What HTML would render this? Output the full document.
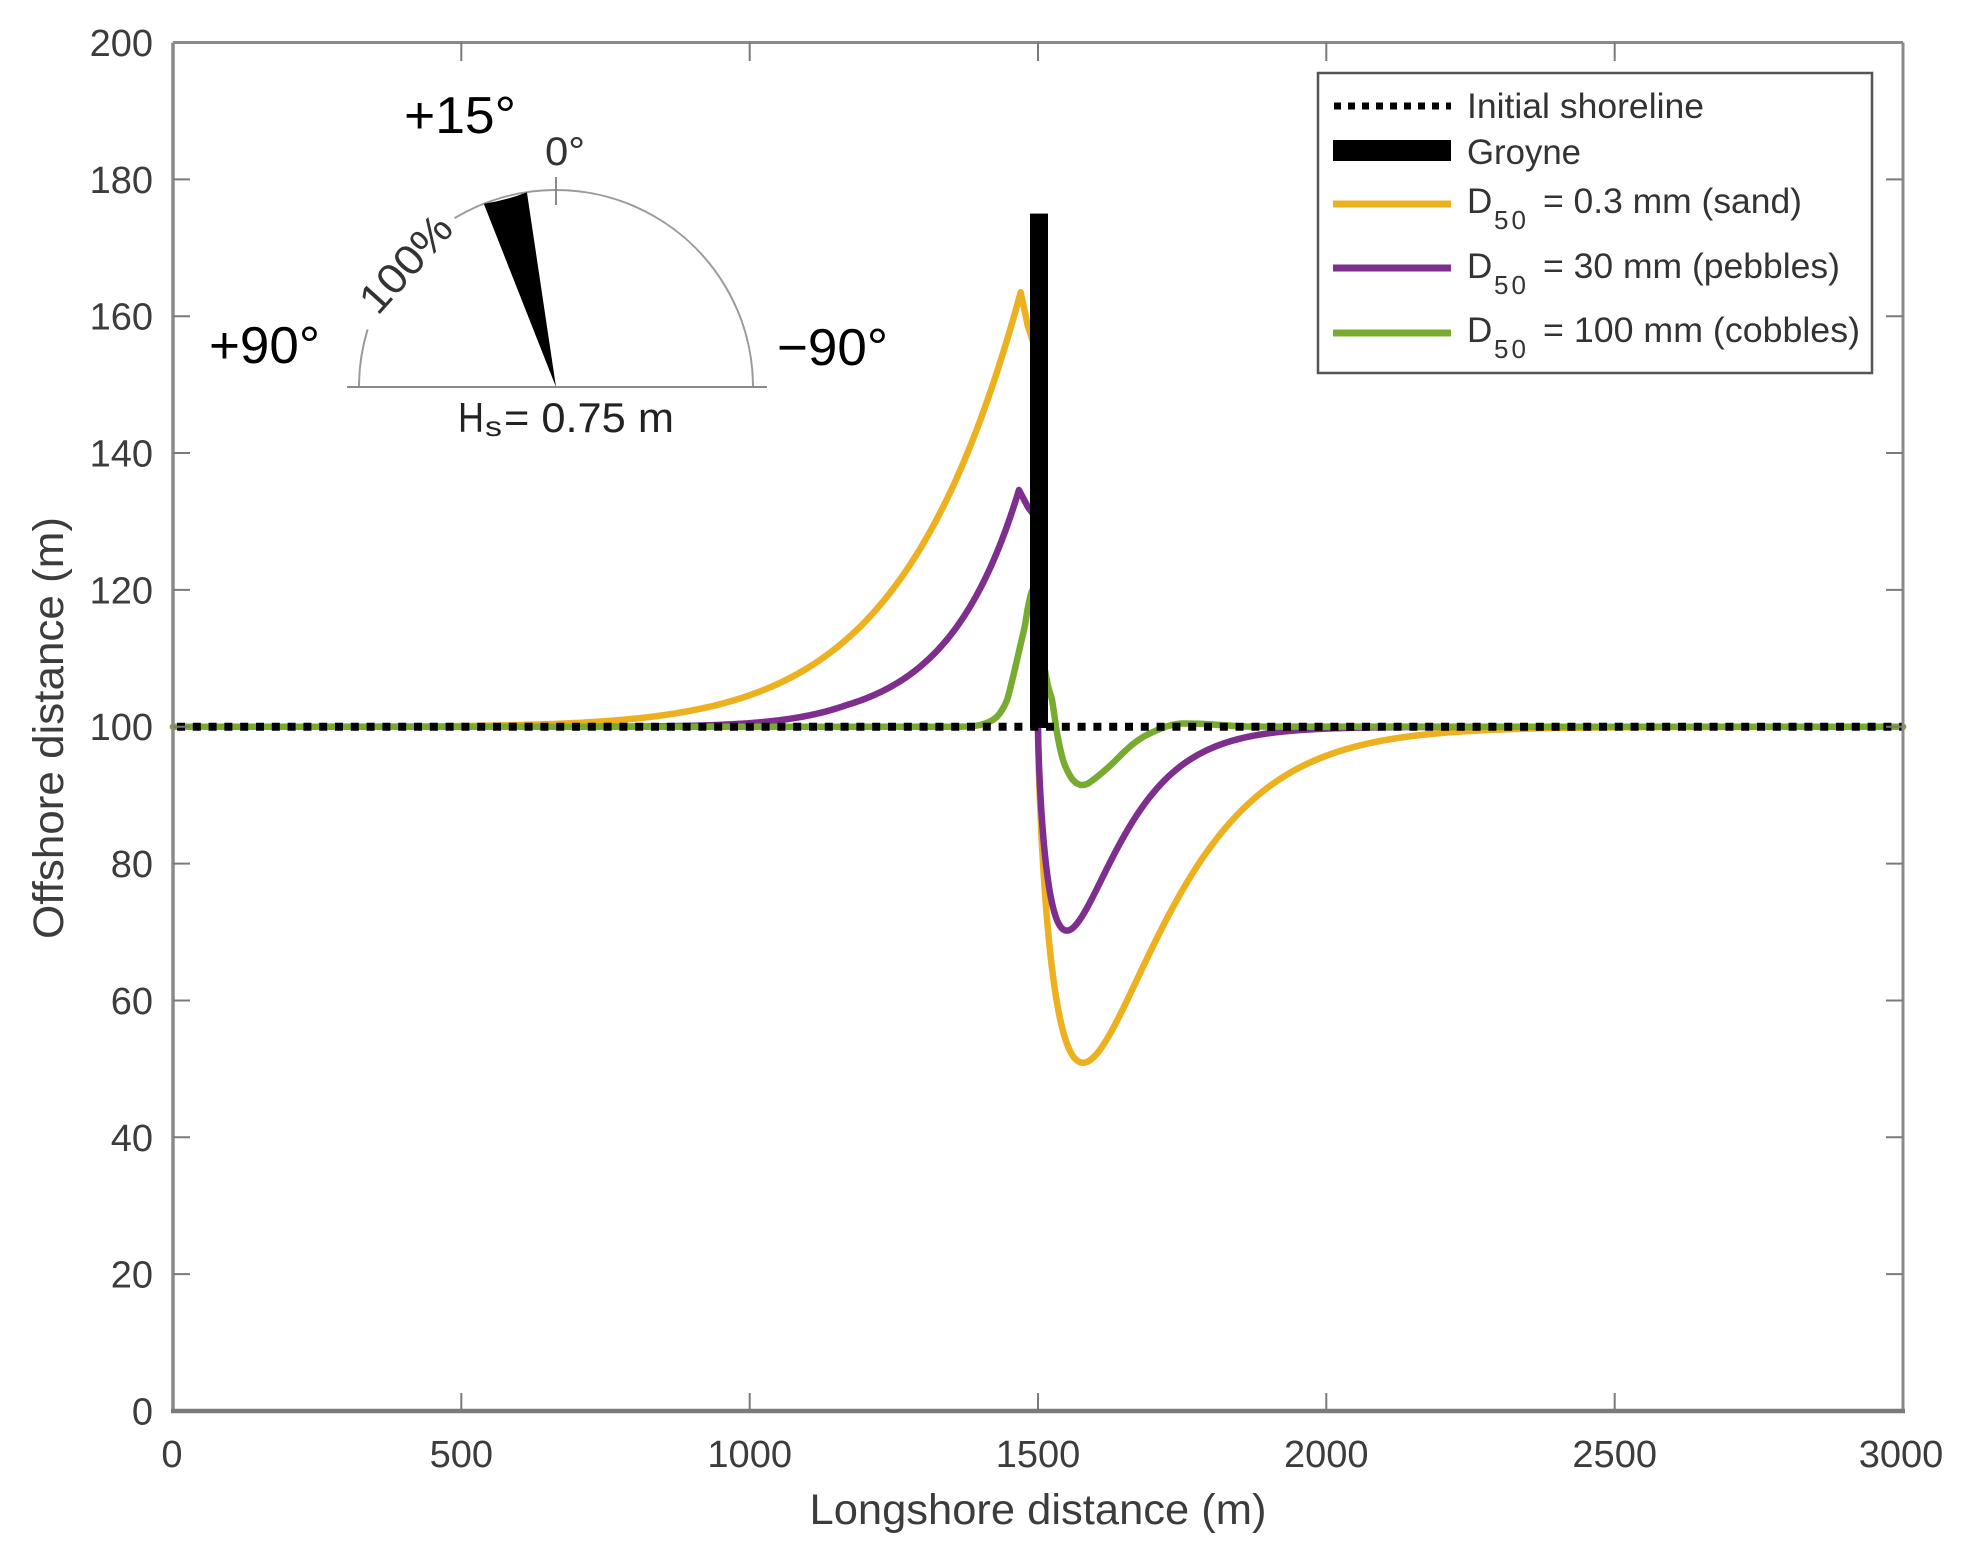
<!DOCTYPE html>
<html>
<head>
<meta charset="utf-8">
<style>
  html, body { margin: 0; padding: 0; background: #ffffff; }
  svg { display: block; }
  text { font-family: "Liberation Sans", Arial, sans-serif; }
</style>
</head>
<body>
<svg id="chart" width="1964" height="1547" viewBox="0 0 1964 1547" xmlns="http://www.w3.org/2000/svg">
  <rect x="0" y="0" width="1964" height="1547" fill="#ffffff"/>

  <!-- Curves -->
  <g id="curves" fill="none" stroke-width="6.5" stroke-linejoin="round" stroke-linecap="round">
    <polyline id="c-orange" class="crv" stroke="#EDB120" points="173,726.8 480,726.7 540,725.3 580,722.5 620,719.8 660,715.5 700,708 740,698 780,688 813,669 847,643 880,606 913,557 947,490 967,447 987,398 1003,356 1013,320 1018,300 1021,292 1025,305 1029,330 1034,360 1035,600 1036,735 1038,800 1043,867 1053,967 1063,1033 1073,1057 1083,1063 1090,1061 1097,1053 1108,1034 1120,1010 1137,977 1153,943 1170,915 1187,890 1203,868 1220,847 1237,828 1253,810 1270,796 1287,783 1303,774 1320,765 1340,756 1360,748.5 1390,740 1423,733.5 1473,729.5 1520,727.5 1600,726.9 1903,726.8"/>
    <polyline id="c-purple" class="crv" stroke="#7E2F8E" points="173,726.8 680,726.7 720,725.5 747,724 780,720.5 813,713.5 847,703.5 880,690 913,670 947,640 965,618 980,592 997,554 1005,530 1010,514 1015,498 1019,490 1023,494 1028,507 1033,530 1036,600 1037,727 1040,800 1045,867 1050,900 1055,918 1061,929 1067,932 1073,929 1080,918 1087,905 1100,882 1120,840 1137,815 1153,797 1170,778 1187,763 1203,754 1220,747 1237,740 1253,735 1287,730 1320,728.3 1360,727.3 1400,726.9 1903,726.8"/>
    <polyline id="c-green" class="crv" stroke="#77AC30" points="173,726.8 960,726.7 980,725 990,721.5 997,716.7 1002,710 1007,700 1013,677 1020,647 1025,625 1028,607 1033,590 1040,640 1048,686 1052,700 1057,733 1063,760 1068,772 1073,780 1078,784 1082,785 1087,784 1093,780 1103,772 1113,763 1123,753 1133,744 1143,737 1153,732 1168,726 1183,723.5 1200,723.8 1220,725 1253,726.6 1903,726.8"/>
  </g>

  <!-- Initial shoreline dotted -->
  <line x1="177" y1="726.8" x2="1903" y2="726.8" stroke="#000" stroke-width="8" stroke-dasharray="8 7.8"/>

  <!-- Groyne -->
  <rect x="1030" y="213.6" width="18" height="514.4" fill="#000"/>

  <!-- Axes frame -->
  <g stroke="#8a8a8a" fill="none">
    <line x1="173" y1="42.5" x2="1903" y2="42.5" stroke-width="3"/>
    <line x1="1903" y1="42.5" x2="1903" y2="1411" stroke-width="3"/>
    <line x1="173" y1="42.5" x2="173" y2="1411" stroke-width="3.5"/>
    <line x1="171" y1="1411" x2="1905" y2="1411" stroke-width="4.5" stroke="#7a7a7a"/>
  </g>

  <!-- Ticks -->
  <g stroke="#7a7a7a" stroke-width="2">
    <line x1="173" y1="1274.15" x2="190" y2="1274.15"/>
    <line x1="173" y1="1137.3" x2="190" y2="1137.3"/>
    <line x1="173" y1="1000.45" x2="190" y2="1000.45"/>
    <line x1="173" y1="863.6" x2="190" y2="863.6"/>
    <line x1="173" y1="726.75" x2="190" y2="726.75"/>
    <line x1="173" y1="589.9" x2="190" y2="589.9"/>
    <line x1="173" y1="453.05" x2="190" y2="453.05"/>
    <line x1="173" y1="316.2" x2="190" y2="316.2"/>
    <line x1="173" y1="179.35" x2="190" y2="179.35"/>
    <line x1="1886" y1="1274.15" x2="1903" y2="1274.15"/>
    <line x1="1886" y1="1137.3" x2="1903" y2="1137.3"/>
    <line x1="1886" y1="1000.45" x2="1903" y2="1000.45"/>
    <line x1="1886" y1="863.6" x2="1903" y2="863.6"/>
    <line x1="1886" y1="726.75" x2="1903" y2="726.75"/>
    <line x1="1886" y1="589.9" x2="1903" y2="589.9"/>
    <line x1="1886" y1="453.05" x2="1903" y2="453.05"/>
    <line x1="1886" y1="316.2" x2="1903" y2="316.2"/>
    <line x1="1886" y1="179.35" x2="1903" y2="179.35"/>
    <line x1="461.3" y1="1393" x2="461.3" y2="1411"/>
    <line x1="749.7" y1="1393" x2="749.7" y2="1411"/>
    <line x1="1038" y1="1393" x2="1038" y2="1411"/>
    <line x1="1326.3" y1="1393" x2="1326.3" y2="1411"/>
    <line x1="1614.7" y1="1393" x2="1614.7" y2="1411"/>
    <line x1="461.3" y1="42.5" x2="461.3" y2="61"/>
    <line x1="749.7" y1="42.5" x2="749.7" y2="61"/>
    <line x1="1038" y1="42.5" x2="1038" y2="61"/>
    <line x1="1326.3" y1="42.5" x2="1326.3" y2="61"/>
    <line x1="1614.7" y1="42.5" x2="1614.7" y2="61"/>
  </g>

  <!-- Y tick labels -->
  <g fill="#3c3c3c" font-size="38" text-anchor="end">
    <text x="153" y="1424.5">0</text>
    <text x="153" y="1287.6">20</text>
    <text x="153" y="1150.8">40</text>
    <text x="153" y="1014">60</text>
    <text x="153" y="877.1">80</text>
    <text x="153" y="740.2">100</text>
    <text x="153" y="603.4">120</text>
    <text x="153" y="466.5">140</text>
    <text x="153" y="329.7">160</text>
    <text x="153" y="192.8">180</text>
    <text x="153" y="56">200</text>
  </g>

  <!-- X tick labels -->
  <g fill="#3c3c3c" font-size="38" text-anchor="middle">
    <text x="172" y="1467">0</text>
    <text x="461.3" y="1467">500</text>
    <text x="749.7" y="1467">1000</text>
    <text x="1038" y="1467">1500</text>
    <text x="1326.3" y="1467">2000</text>
    <text x="1614.7" y="1467">2500</text>
    <text x="1901" y="1467">3000</text>
  </g>

  <!-- Axis titles -->
  <text x="1038" y="1524" font-size="43" fill="#3c3c3c" text-anchor="middle" textLength="457" lengthAdjust="spacingAndGlyphs">Longshore distance (m)</text>
  <text x="0" y="0" font-size="43" fill="#3c3c3c" text-anchor="middle" transform="translate(63,728) rotate(-90)" textLength="422" lengthAdjust="spacingAndGlyphs">Offshore distance (m)</text>

  <!-- Legend -->
  <rect x="1318" y="73" width="554" height="300" fill="#ffffff" stroke="#555" stroke-width="2.5"/>
  <line x1="1334" y1="106" x2="1451" y2="106" stroke="#000" stroke-width="7" stroke-dasharray="7 7"/>
  <rect x="1333" y="140" width="118" height="21" fill="#000"/>
  <line x1="1333" y1="204" x2="1451" y2="204" stroke="#EDB120" stroke-width="7"/>
  <line x1="1333" y1="268" x2="1451" y2="268" stroke="#7E2F8E" stroke-width="7"/>
  <line x1="1333" y1="333" x2="1451" y2="333" stroke="#77AC30" stroke-width="7"/>
  <g fill="#333" font-size="35">
    <text x="1467" y="118" textLength="237" lengthAdjust="spacingAndGlyphs">Initial shoreline</text>
    <text x="1467" y="164" textLength="114" lengthAdjust="spacingAndGlyphs">Groyne</text>
    <text x="1467" y="213">D</text>
    <text x="1494" y="229" font-size="26" letter-spacing="3">50</text>
    <text x="1543" y="213" textLength="259" lengthAdjust="spacingAndGlyphs">= 0.3 mm (sand)</text>
    <text x="1467" y="278">D</text>
    <text x="1494" y="294" font-size="26" letter-spacing="3">50</text>
    <text x="1543" y="278" textLength="297" lengthAdjust="spacingAndGlyphs">= 30 mm (pebbles)</text>
    <text x="1467" y="342">D</text>
    <text x="1494" y="358" font-size="26" letter-spacing="3">50</text>
    <text x="1543" y="342" textLength="317" lengthAdjust="spacingAndGlyphs">= 100 mm (cobbles)</text>
  </g>

  <!-- Inset wave rose -->
  <g fill="none" stroke="#9a9a9a" stroke-width="2">
    <path d="M 753 387 A 197 197 0 0 0 454.5 218.2"/>
    <path d="M 367.6 329.4 A 197 197 0 0 0 359 387"/>
    <line x1="347" y1="387" x2="767" y2="387" stroke="#8a8a8a"/>
    <line x1="556" y1="177" x2="556" y2="205" stroke="#8a8a8a"/>
  </g>
  <path d="M 556 387 L 526.9 192.2 A 197 197 0 0 1 483.8 203.8 Z" fill="#000"/>

  <g fill="#000" font-size="52">
    <text x="404" y="133" textLength="112" lengthAdjust="spacingAndGlyphs">+15°</text>
    <text x="209" y="363" textLength="111" lengthAdjust="spacingAndGlyphs">+90°</text>
    <text x="777" y="365" textLength="111" lengthAdjust="spacingAndGlyphs">−90°</text>
  </g>
  <text x="545" y="165" font-size="40" fill="#333" textLength="40" lengthAdjust="spacingAndGlyphs">0°</text>
  <text x="0" y="14" font-size="42" fill="#333" text-anchor="middle" transform="translate(406,264) rotate(-48)" textLength="116" lengthAdjust="spacingAndGlyphs">100%</text>
  <g fill="#222">
    <text x="458" y="432" font-size="42" textLength="26" lengthAdjust="spacingAndGlyphs">H</text>
    <text x="485" y="436" font-size="28" textLength="17" lengthAdjust="spacingAndGlyphs">s</text>
    <text x="504" y="432" font-size="42" textLength="170" lengthAdjust="spacingAndGlyphs">= 0.75 m</text>
  </g>
</svg>
<script>
(function(){
  var NS = "http://www.w3.org/2000/svg";
  function px(m){ return 173 + m * 0.576667; }
  function py(v){ return 1411 - v * 6.8425; }

  function leftBranch(A, mp, Lf, drop, mEnd){
    var pts = [], m = 0;
    while (m < mp) {
      var s = mp - m;
      pts.push([px(m), py(100 + A * Math.exp(-s / Lf(s)))]);
      m += (s > 60) ? 4 : 1;
    }
    pts.push([px(mp), py(100 + A)]);
    for (m = mp + 1; m <= mEnd; m++) pts.push([px(m), py(100 + A - drop * (m - mp))]);
    return pts;
  }
  function rightBranch(Dmin, u0, k){
    var us = [0, 0.02, 0.1, 0.3, 0.6, 1, 1.5, 2, 3, 4, 5, 6, 8, 10, 12, 14, 16, 18, 20], u, pts = [];
    for (u = 22; u <= 200; u += 2) us.push(u);
    for (u = 205; u <= 1500; u += 5) us.push(u);
    for (var i = 0; i < us.length; i++) {
      u = us[i];
      var D = (u === 0) ? 0 : Dmin * Math.exp(k * (Math.log(u / u0) + 1 - u / u0));
      pts.push([px(1500 + u), py(100 - D)]);
    }
    return pts;
  }
  function toPath(pts){
    var s = "M" + pts[0][0].toFixed(2) + " " + pts[0][1].toFixed(2);
    for (var i = 1; i < pts.length; i++) s += " L" + pts[i][0].toFixed(2) + " " + pts[i][1].toFixed(2);
    return s;
  }
  function smooth(p){
    var n = p.length, d = [], m = [], i;
    for (i = 0; i < n - 1; i++) d[i] = (p[i+1][1] - p[i][1]) / (p[i+1][0] - p[i][0]);
    m[0] = d[0]; m[n-1] = d[n-2];
    for (i = 1; i < n - 1; i++) {
      if (d[i-1] * d[i] <= 0) m[i] = 0; else m[i] = (d[i-1] + d[i]) / 2;
    }
    for (i = 0; i < n - 1; i++) {
      if (Math.abs(d[i]) < 1e-9) { m[i] = 0; m[i+1] = 0; continue; }
      var a = m[i] / d[i], b = m[i+1] / d[i], s = a*a + b*b;
      if (s > 9) { var t = 3 / Math.sqrt(s); m[i] = t * a * d[i]; m[i+1] = t * b * d[i]; }
    }
    var s2 = "M" + p[0][0] + " " + p[0][1];
    for (i = 0; i < n - 1; i++) {
      var h = p[i+1][0] - p[i][0];
      s2 += " C" + (p[i][0] + h/3).toFixed(2) + " " + (p[i][1] + m[i]*h/3).toFixed(2) +
            " " + (p[i+1][0] - h/3).toFixed(2) + " " + (p[i+1][1] - m[i+1]*h/3).toFixed(2) +
            " " + p[i+1][0] + " " + p[i+1][1];
    }
    return s2;
  }
  function replace(id, d){
    var pl = document.getElementById(id);
    if (!pl) return;
    var path = document.createElementNS(NS, "path");
    path.setAttribute("d", d);
    path.setAttribute("stroke", pl.getAttribute("stroke"));
    pl.parentNode.replaceChild(path, pl);
  }
  try {
    // Orange (sand)
    var o = leftBranch(63.5, 1470, function(s){ return Math.max(60, 205 - 0.055 * s); }, 0.4, 1482);
    o.push([1034, 345]); o.push([1036, 700]);
    o = o.concat(rightBranch(49.1, 78, 0.69));
    replace("c-orange", toPath(o));

    // Purple (pebbles)
    var p = leftBranch(34.6, 1467, function(s){ return Math.max(60, 125 - Math.max(0, s - 300) * 0.08); }, 0.16, 1483);
    p.push([1034, 515]); p.push([1036, 700]);
    p = p.concat(rightBranch(29.8, 50, 0.7));
    replace("c-purple", toPath(p));

    // Green (cobbles) - smoothed from points
    var g = document.getElementById("c-green");
    var gp = g.getAttribute("points").trim().split(/\s+/).map(function(s){
      var a = s.split(","); return [parseFloat(a[0]), parseFloat(a[1])];
    });
    replace("c-green", smooth(gp));
  } catch (e) {}
})();
</script>
</body>
</html>
